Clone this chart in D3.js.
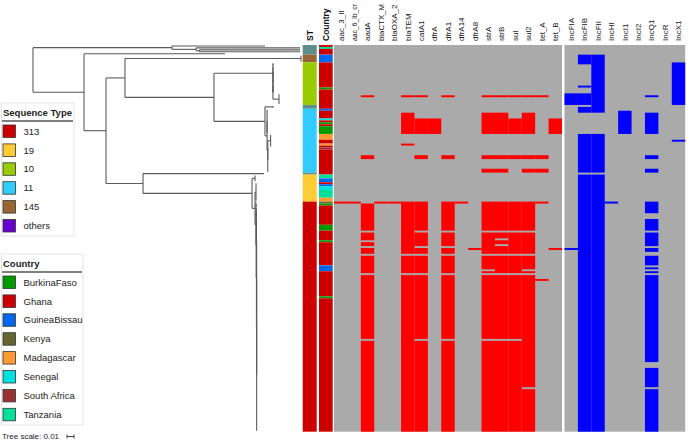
<!DOCTYPE html>
<html><head><meta charset="utf-8">
<script src="https://cdn.jsdelivr.net/npm/d3@7"></script>
<style>body{margin:0;background:#fff}svg{display:block;font-family:"Liberation Sans",Arial,sans-serif}</style>
</head><body><svg id="chart" width="689" height="442"></svg>
<script>
// ---------------- DATA ----------------
const rowCount = 200;

const stCategories = ["313", "19", "10", "11", "145", "others"];
const stColors = ["#cc0000", "#ffcc33", "#99cc00", "#33ccff", "#996633", "#6600cc"];
const stUnlistedColor = "#5d8d8d";
// [ST, first row, last row]
const stRuns = [["unlisted",0,4],["145",5,8],["10",9,30],["unlisted",31,32],["11",33,65],["unlisted",66,66],["19",67,80],["313",81,199]];

const countries = ["BurkinaFaso","Ghana","GuineaBissau","Kenya","Madagascar","Senegal","South Africa","Tanzania"];
const countryColors = ["#009900","#cc0000","#0066ee","#666633","#ff9933","#00e0e0","#993333","#00e09a"];
const countryRuns = [["Ghana",0,0],["Tanzania",1,1],["Ghana",2,4],["GuineaBissau",5,8],["Ghana",9,21],["BurkinaFaso",22,22],
  ["Ghana",23,32],["GuineaBissau",33,33],["Ghana",34,37],["Senegal",38,38],["Ghana",39,39],["BurkinaFaso",40,40],["Ghana",41,41],
  ["BurkinaFaso",42,45],["Madagascar",46,48],["Ghana",49,50],["Madagascar",51,51],["Ghana",52,52],["South Africa",53,53],
  ["Ghana",54,66],["Tanzania",67,68],["GuineaBissau",69,70],["Ghana",71,71],["GuineaBissau",72,72],["Senegal",73,74],
  ["Tanzania",75,78],["Madagascar",79,80],["Kenya",81,81],["BurkinaFaso",82,82],["Ghana",83,92],["BurkinaFaso",93,95],
  ["Ghana",96,100],["BurkinaFaso",101,101],["Ghana",102,113],["GuineaBissau",114,116],["Ghana",117,129],["BurkinaFaso",130,130],["Ghana",131,199]];

const amrGenes = ["aac_3_II","aac_6_lb_cr","aadA","blaCTX_M","blaOXA_2","blaTEM","catA1","dfrA","dfrA1","dfrA14","dfrA8","strA","strB","sul","sul2","tet_A","tet_B"];
// presence: [first row, last row]
const aac_3_II = [[81,81]];
const aac_6_lb_cr = [[81,81]];
const aadA = [[26,26],[57,58],[82,95],[97,100],[102,103],[105,107],[109,117],[119,151],[153,199]];
const blaCTX_M = [[81,81]];
const blaOXA_2 = [[81,81]];
const blaTEM = [[26,26],[35,45],[51,51],[81,107],[109,117],[119,199]];
const catA1 = [[26,26],[38,45],[57,58],[81,95],[97,103],[105,107],[109,117],[119,151],[153,199]];
const dfrA = [[38,45]];
const dfrA1 = [[26,26],[57,58],[81,95],[97,103],[105,107],[109,117],[119,151],[153,199]];
const dfrA14 = [[81,81]];
const dfrA8 = [[105,105]];
const strA = [[26,26],[35,45],[57,58],[64,65],[81,95],[97,107],[109,115],[117,117],[119,151],[153,199]];
const strB = [[26,26],[35,45],[57,58],[64,65],[81,95],[97,99],[101,102],[104,107],[109,117],[119,151],[153,199]];
const sul = [[26,26],[38,45],[57,58],[81,95],[97,107],[109,117],[119,151],[153,199]];
const sul2 = [[26,26],[35,45],[57,58],[64,65],[81,95],[97,107],[109,115],[117,117],[119,176],[178,199]];
const tet_A = [[26,26],[57,58],[64,65],[81,81],[121,121]];
const tet_B = [[38,45],[105,105]];

const incTypes = ["IncFIA","IncFIB","IncFII","IncHI","IncI1","IncI2","IncQ1","IncR","IncX1"];
const IncFIA = [[25,30],[105,105]];
const IncFIB = [[5,9],[21,21],[25,30],[32,34],[46,65],[67,199]];
const IncFII = [[5,34],[46,65],[67,199]];
const IncHI = [[81,81]];
const IncI1 = [[34,45]];
const IncI2 = [];
const IncQ1 = [[26,26],[35,45],[57,58],[64,65],[81,86],[90,95],[97,103],[105,106],[109,113],[115,115],[117,117],[119,163],[167,176],[178,199]];
const IncR = [];
const IncX1 = [[9,30],[49,49]];

// Tree: l = branch length, c = children, n = number of leaves (zero-length polytomy) under this branch
const tree = {l:0, c:[
  {l:0.1986, c:[
    {l:0.1329, n:1},
    {l:0.0343, c:[ {l:0.1486, n:1}, {l:0.005, c:[ {l:0.1436, n:1}, {l:0.1436, n:1} ]} ]}
  ]},
  {l:0.0729, c:[
    {l:0.2014, n:1},
    {l:0.0314, c:[
      {l:0.0271, c:[
        {l:0.2514, n:4},
        {l:0.1271, c:[
          {l:0.0843, c:[ {l:0, n:2}, {l:0, c:[ {l:0, n:6}, {l:0, c:[ {l:0, n:8}, {l:0.0086, n:6} ]} ]} ]},
          {l:0.0729, c:[ {l:0.0114, n:2}, {l:0.003, c:[ {l:0, n:13}, {l:0.001, c:[ {l:0.004, n:7}, {l:0, n:13} ]} ]} ]}
        ]}
      ]},
      {l:0.0529, c:[
        {l:0.1729, n:1},
        {l:0.1557, c:[
          {l:0.0043, n:4},
          {l:0.0043, c:[
            {l:0.0014, n:10},
            {l:0.0014, c:[ {l:0, n:3}, {l:0.0003, c:[ {l:0, n:5}, {l:0.0003, c:[ {l:0, n:12}, {l:0.0003, c:[ {l:0, n:40}, {l:0, n:59} ]} ]} ]} ]}
          ]}
        ]}
      ]}
    ]}
  ]}
]};

// ---------------- CHART ----------------
const svg = d3.select("#chart");
const amrTable = [aac_3_II,aac_6_lb_cr,aadA,blaCTX_M,blaOXA_2,blaTEM,catA1,dfrA,dfrA1,dfrA14,dfrA8,strA,strB,sul,sul2,tet_A,tet_B];
const incTable = [IncFIA,IncFIB,IncFII,IncHI,IncI1,IncI2,IncQ1,IncR,IncX1];

const yRow = d3.scaleBand().domain(d3.range(rowCount)).range([45, 431.7]);
const xTree = d3.scaleLinear().domain([0, 0.01]).range([33, 40]);
const xAmr = d3.scaleBand().domain(amrGenes).range([334, 562]);
const xInc = d3.scaleBand().domain(incTypes).range([564.5, 685.2]);
const stColor = d3.scaleOrdinal().domain(stCategories.concat(["unlisted"])).range(stColors.concat([stUnlistedColor]));
const ctColor = d3.scaleOrdinal().domain(countries).range(countryColors);
const runY = r => yRow(r[1]);
const runH = r => yRow(r[2]) + yRow.bandwidth() - yRow(r[1]);
const rangeY = r => yRow(r[0]);
const rangeH = r => yRow(r[1]) + yRow.bandwidth() - yRow(r[0]);

// ---- tree ----
function expand(node){
  if (node.n !== undefined) {
    if (node.n === 1) return {len: node.l};
    return {len: node.l, children: d3.range(node.n).map(() => ({len: 0}))};
  }
  return {len: node.l, children: node.c.map(expand)};
}
const root = d3.hierarchy(expand(tree));
root.eachBefore(d => { d.dist = (d.parent ? d.parent.dist : 0) + d.data.len; d.px = xTree(d.dist); });
root.leaves().forEach((leaf, i) => { leaf.py = yRow(i) + yRow.bandwidth() / 2; });
root.eachAfter(d => { if (d.children) d.py = (d.children[0].py + d.children[d.children.length - 1].py) / 2; });

const tg = svg.append("g").attr("fill", "none").attr("stroke", "#5a5a5a").attr("stroke-width", 1.1);
tg.selectAll("path.h").data(root.descendants().filter(d => d.parent && d.px - d.parent.px > 0.05))
  .join("path").attr("class", "h")
  .attr("d", d => `M${d.parent.px},${d.py}H${d.px}`);
tg.selectAll("path.v").data(root.descendants().filter(d => d.children))
  .join("path").attr("class", "v")
  .attr("d", d => `M${d.px},${d.children[0].py}V${d.children[d.children.length - 1].py}`);

// ---- ST & Country strips ----
svg.append("g").selectAll("rect").data(stRuns).join("rect")
  .attr("x", 302.7).attr("width", 14).attr("y", runY).attr("height", runH)
  .attr("fill", d => stColor(d[0]));
svg.append("g").selectAll("rect").data(countryRuns).join("rect")
  .attr("x", 319).attr("width", 13.7).attr("y", runY).attr("height", runH)
  .attr("fill", d => ctColor(d[0]));

// ---- heatmaps ----
const [yTop, yBot] = yRow.range();
svg.append("rect").attr("x", xAmr.range()[0]).attr("width", xAmr.range()[1] - xAmr.range()[0])
  .attr("y", yTop).attr("height", yBot - yTop).attr("fill", "#aaaaaa");
svg.append("rect").attr("x", xInc.range()[0]).attr("width", xInc.range()[1] - xInc.range()[0])
  .attr("y", yTop).attr("height", yBot - yTop).attr("fill", "#aaaaaa");

const amrCells = amrTable.flatMap((ranges, i) => ranges.map(r => ({gene: amrGenes[i], r})));
svg.append("g").selectAll("rect").data(amrCells).join("rect")
  .attr("x", d => xAmr(d.gene)).attr("width", xAmr.bandwidth())
  .attr("y", d => rangeY(d.r)).attr("height", d => rangeH(d.r)).attr("fill", "#ff0000");
const incCells = incTable.flatMap((ranges, i) => ranges.map(r => ({inc: incTypes[i], r})));
svg.append("g").selectAll("rect").data(incCells).join("rect")
  .attr("x", d => xInc(d.inc)).attr("width", xInc.bandwidth())
  .attr("y", d => rangeY(d.r)).attr("height", d => rangeH(d.r)).attr("fill", "#0000ff");

// ---- column headers ----
const hdr = svg.append("g").attr("font-size", 8).attr("fill", "#111");
hdr.selectAll("text.a").data(amrGenes.map(g => ({t: g, x: xAmr(g) + xAmr.bandwidth() / 2}))
  .concat(incTypes.map(g => ({t: g, x: xInc(g) + xInc.bandwidth() / 2}))))
  .join("text").attr("class", "a")
  .attr("transform", d => `translate(${d.x},41) rotate(-90)`).attr("dy", "0.35em").text(d => d.t)
  .each(function(d){
    const len = this.getComputedTextLength();
    if (len > 37) d3.select(this).attr("font-size", (8 * 37 / len).toFixed(2));
  });
hdr.append("text").attr("transform", "translate(309.7,41) rotate(-90)").attr("dy", "0.35em")
  .attr("font-weight", "bold").attr("font-size", 8.5).text("ST");
hdr.append("text").attr("transform", "translate(325.8,41) rotate(-90)").attr("dy", "0.35em")
  .attr("font-weight", "bold").attr("font-size", 8.5).text("Country");

// ---- legends ----
function legend(title, items, colors, x0, y0, w, h) {
  const g = svg.append("g");
  g.append("rect").attr("x", x0).attr("y", y0).attr("width", w).attr("height", h)
    .attr("fill", "#fff").attr("stroke", "#e4e4e4");
  g.append("text").attr("x", x0 + 1.5).attr("y", y0 + 13).attr("font-weight", "bold")
    .attr("font-size", 9.5).attr("fill", "#222").text(title);
  g.append("line").attr("x1", x0 + 0.5).attr("x2", x0 + w - 1).attr("y1", y0 + 18).attr("y2", y0 + 18)
    .attr("stroke", "#555").attr("stroke-width", 1.6);
  const it = g.selectAll("g.item").data(items).join("g").attr("class", "item")
    .attr("transform", (d, i) => `translate(${x0 + 1.5},${y0 + 22 + i * 18.9})`);
  it.append("rect").attr("width", 12.5).attr("height", 12.5).attr("fill", (d, i) => colors[i])
    .attr("stroke", "#333").attr("stroke-width", 0.8);
  it.append("text").attr("x", 20.5).attr("y", 6.3).attr("dy", "0.35em").attr("font-size", 9.5)
    .attr("fill", "#222").text(d => d);
}
legend("Sequence Type", stCategories, stColors, 1.5, 103, 72.5, 133);
legend("Country", countries, countryColors, 1.5, 254, 81.5, 171);

// ---- tree scale ----
svg.append("text").attr("x", 2).attr("y", 439).attr("font-size", 8).attr("fill", "#222").text("Tree scale: 0.01");
const sb = svg.append("g").attr("stroke", "#444").attr("stroke-width", 1);
const sbW = xTree(0.01) - xTree(0);
sb.append("path").attr("d", `M67,436.5H${67 + sbW}M67,434.5V438.5M${67 + sbW},434.5V438.5`);
</script></body></html>
